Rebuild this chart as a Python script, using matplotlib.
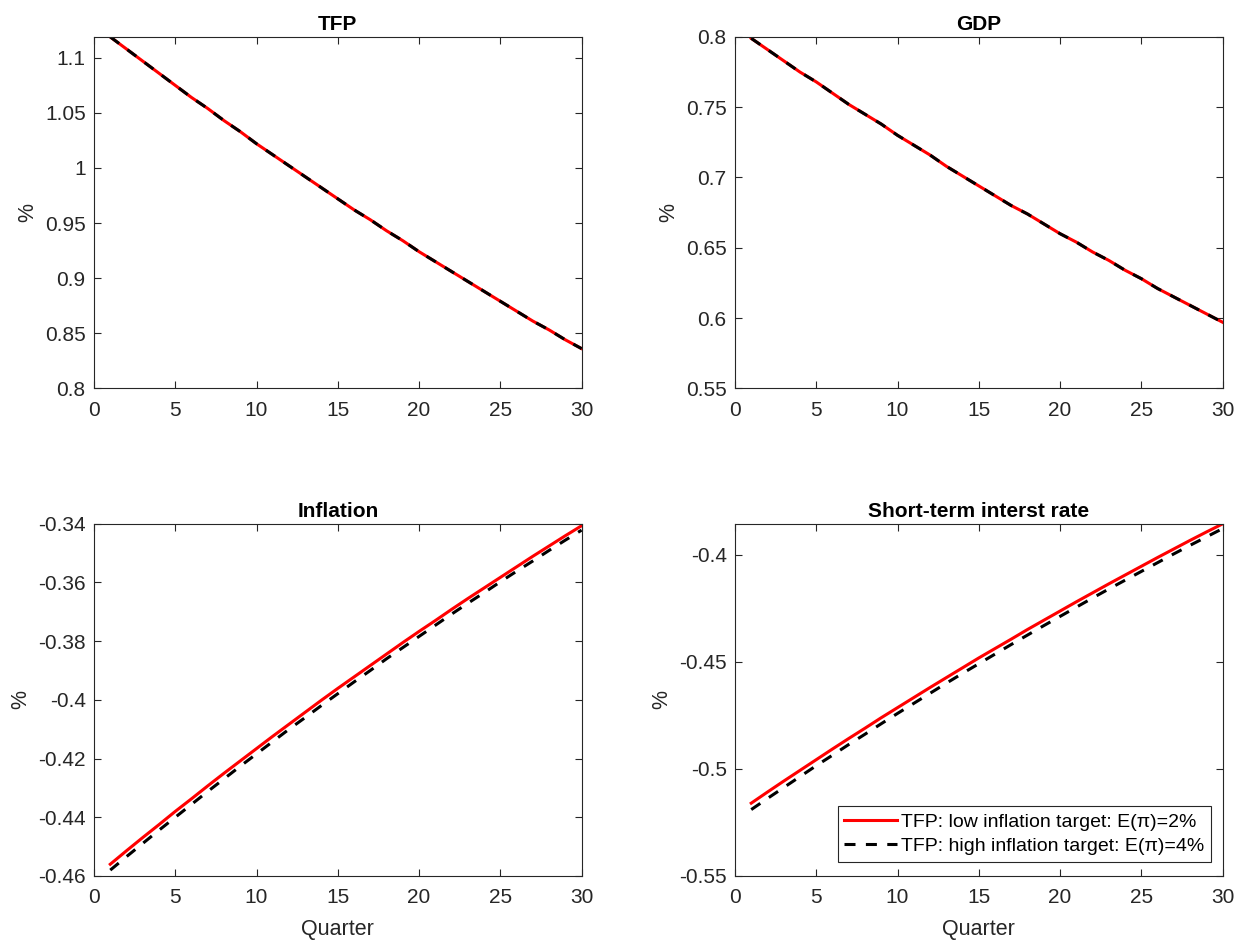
import numpy as np
import matplotlib
matplotlib.use("Agg")
import matplotlib.pyplot as plt

quarters = list(range(1, 31))

tfp = [1.119, 1.108, 1.097, 1.086, 1.075, 1.064, 1.054, 1.043, 1.033, 1.022,
       1.012, 1.002, 0.992, 0.982, 0.972, 0.962, 0.953, 0.943, 0.934, 0.924,
       0.915, 0.906, 0.897, 0.888, 0.879, 0.870, 0.861, 0.853, 0.844, 0.836]

gdp = [0.799, 0.791, 0.783, 0.775, 0.768, 0.760, 0.752, 0.745, 0.738, 0.730,
       0.723, 0.716, 0.708, 0.701, 0.694, 0.687, 0.680, 0.674, 0.667, 0.660,
       0.654, 0.647, 0.641, 0.634, 0.628, 0.621, 0.615, 0.609, 0.603, 0.597]

infl_low = [-0.4560, -0.4514, -0.4469, -0.4425, -0.4380, -0.4337, -0.4293, -0.4250, -0.4208, -0.4166,
            -0.4124, -0.4083, -0.4042, -0.4001, -0.3961, -0.3922, -0.3883, -0.3844, -0.3805, -0.3767,
            -0.3730, -0.3692, -0.3655, -0.3619, -0.3583, -0.3547, -0.3511, -0.3476, -0.3441, -0.3407]
infl_high = [-0.4580, -0.4534, -0.4489, -0.4444, -0.4400, -0.4356, -0.4312, -0.4269, -0.4226, -0.4184,
             -0.4142, -0.4100, -0.4060, -0.4019, -0.3979, -0.3939, -0.3900, -0.3860, -0.3822, -0.3784,
             -0.3746, -0.3708, -0.3671, -0.3635, -0.3598, -0.3562, -0.3527, -0.3491, -0.3456, -0.3422]

rate_low = [-0.5160, -0.5108, -0.5057, -0.5007, -0.4957, -0.4907, -0.4858, -0.4810, -0.4761, -0.4714,
            -0.4667, -0.4620, -0.4574, -0.4528, -0.4482, -0.4438, -0.4394, -0.4349, -0.4306, -0.4263,
            -0.4220, -0.4178, -0.4136, -0.4095, -0.4054, -0.4013, -0.3973, -0.3933, -0.3894, -0.3856]
rate_high = [-0.5190, -0.5138, -0.5087, -0.5036, -0.4985, -0.4936, -0.4886, -0.4838, -0.4789, -0.4741,
             -0.4694, -0.4647, -0.4600, -0.4554, -0.4509, -0.4464, -0.4419, -0.4375, -0.4331, -0.4288,
             -0.4245, -0.4202, -0.4160, -0.4119, -0.4078, -0.4037, -0.3996, -0.3956, -0.3917, -0.3878]

label_low = "TFP: low inflation target: E(π)=2%"
label_high = "TFP: high inflation target: E(π)=4%"

plt.rcParams['font.family'] = ['Liberation Sans', 'DejaVu Sans']

fig = plt.figure(figsize=(12.47, 9.47), dpi=100)

# [left, bottom, width, height] in figure fraction
pos = [
    [0.0754, 0.590, 0.391, 0.371],
    [0.5894, 0.590, 0.391, 0.371],
    [0.0754, 0.075, 0.391, 0.372],
    [0.5894, 0.075, 0.391, 0.372],
]

panels = [
    ("TFP", tfp, tfp, (0.8, 1.119), [0.8, 0.85, 0.9, 0.95, 1, 1.05, 1.1]),
    ("GDP", gdp, gdp, (0.55, 0.8), [0.55, 0.6, 0.65, 0.7, 0.75, 0.8]),
    ("Inflation", infl_low, infl_high, (-0.46, -0.34),
     [-0.46, -0.44, -0.42, -0.4, -0.38, -0.36, -0.34]),
    ("Short-term interst rate", rate_low, rate_high, (-0.55, -0.3855),
     [-0.55, -0.5, -0.45, -0.4]),
]

axcol = '#262626'
for i, (title, low, high, ylim, yt) in enumerate(panels):
    ax = fig.add_axes(pos[i])
    ax.plot(quarters, low, color='red', lw=2.2, label=label_low)
    ax.plot(quarters, high, color='black', lw=2.2, ls=(0, (3.6, 3.4)), label=label_high)
    ax.set_xlim(0, 30)
    ax.set_ylim(*ylim)
    ax.set_xticks([0, 5, 10, 15, 20, 25, 30])
    ax.set_yticks(yt)
    ax.set_yticklabels([f"{v:g}" for v in yt])
    ax.set_title(title, fontsize=15, fontweight='bold', pad=5)
    ax.set_ylabel('%', fontsize=15.5, color=axcol, labelpad=5)
    if i >= 2:
        ax.set_xlabel('Quarter', fontsize=15.5, color=axcol, labelpad=8)
    ax.tick_params(direction='in', top=True, right=True, labelsize=15,
                   colors=axcol, length=5, width=0.8)
    ax.tick_params(axis='x', pad=9)
    ax.tick_params(axis='y', pad=6)
    for s in ax.spines.values():
        s.set_color(axcol)
        s.set_linewidth(0.8)
    if i == 3:
        leg = ax.legend(loc='lower right', fontsize=14, fancybox=False,
                        framealpha=1, edgecolor=axcol, handlelength=2.7,
                        handletextpad=0.2, borderpad=0.35, labelspacing=0.35,
                        borderaxespad=0, bbox_to_anchor=(0.976, 0.04))
        leg.get_frame().set_linewidth(0.8)

fig.savefig('out.png', dpi=100)
